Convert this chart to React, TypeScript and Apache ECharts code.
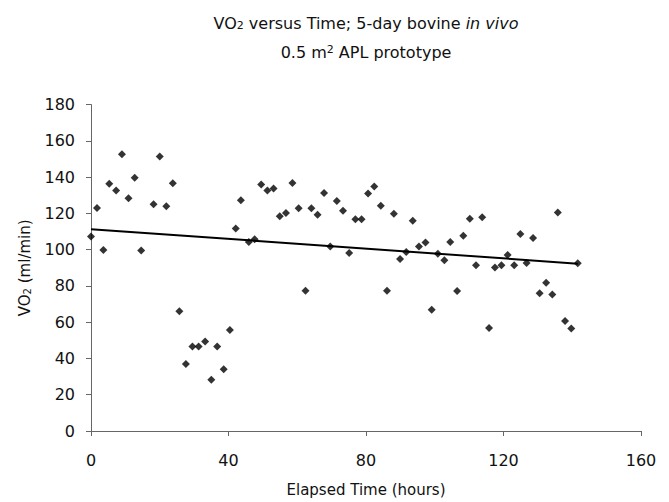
import React, { useEffect, useRef } from "react";
import * as echarts from "echarts";

const hours = [
  0, 1.75, 3.6, 5.3, 7.3, 9.0, 10.9, 12.7, 14.6, 18.2, 20.0, 21.9, 23.8, 25.7, 27.6, 29.5,
  31.3, 33.2, 35.0, 36.7, 38.6, 40.4, 42.1, 43.6, 45.9, 47.6, 49.5, 51.3, 53.1, 54.9, 56.7,
  58.6, 60.4, 62.4, 64.1, 65.9, 67.8, 69.6, 71.5, 73.3, 75.1, 76.9, 78.7, 80.6, 82.4, 84.3,
  86.1, 88.1, 89.9, 91.7, 93.6, 95.4, 97.3, 99.1, 100.9, 102.8, 104.5, 106.5, 108.3, 110.2,
  112.0, 113.8, 115.8, 117.5, 119.4, 121.2, 123.1, 124.9, 126.7, 128.6, 130.5, 132.4, 134.2,
  135.8, 137.9, 139.7, 141.6,
];
const vo2 = [
  107.3, 123, 99.8, 136.3, 132.6, 152.6, 128.4, 139.7, 99.6, 125, 151.4, 124, 136.6, 66, 37,
  46.6, 46.6, 49.3, 28.2, 46.6, 34, 55.7, 111.7, 127.2, 104.2, 105.8, 136, 132.6, 133.7, 118.4,
  120.2, 136.8, 122.8, 77.3, 122.8, 119.3, 131.3, 101.8, 126.8, 121.5, 98.2, 116.8, 116.8, 131,
  134.8, 124.2, 77.3, 119.8, 94.9, 98.7, 116, 101.8, 104, 66.8, 97.8, 94.2, 104.2, 77.2, 107.7,
  117, 91.4, 117.9, 56.8, 90.2, 91.4, 97.1, 91.4, 108.7, 92.7, 106.4, 76, 81.8, 75.3, 120.5,
  60.7, 56.5, 92.5,
];
const trendHours = [0, 141.6];
const trendVo2 = [111.3, 92.3];

const FONT = "DejaVu Sans";

export default function App() {
  const ref = useRef<HTMLDivElement>(null);
  useEffect(() => {
    document.body.style.margin = "0";
    if (!ref.current) return;
    const chart = echarts.init(ref.current, undefined, { renderer: "svg" });
    chart.setOption({
      animation: false,
      backgroundColor: "#ffffff",
      graphic: [
        {
          type: "text",
          x: 366,
          y: 23,
          style: {
            text: "VO{sub|2} versus Time; 5-day bovine {it|in vivo}",
            align: "center",
            verticalAlign: "middle",
            fontFamily: FONT,
            fontSize: 16,
            fill: "#111",
            rich: {
              sub: { fontSize: 11, fontFamily: FONT, lineHeight: 11, verticalAlign: "bottom", fill: "#111" },
              it: { fontSize: 16, fontFamily: FONT, fontStyle: "italic", fill: "#111" },
            },
          },
        },
        {
          type: "text",
          x: 366,
          y: 52,
          style: {
            text: "0.5 m{sup|2} APL prototype",
            align: "center",
            verticalAlign: "middle",
            fontFamily: FONT,
            fontSize: 16,
            fill: "#111",
            rich: {
              sup: { fontSize: 11, fontFamily: FONT, lineHeight: 11, verticalAlign: "top", fill: "#111" },
            },
          },
        },
      ],
      grid: { left: 91, right: 28, top: 104.6, bottom: 68, containLabel: false },
      xAxis: {
        type: "value",
        min: 0,
        max: 160,
        interval: 40,
        name: "Elapsed Time (hours)",
        nameLocation: "middle",
        nameGap: 51,
        nameTextStyle: { fontFamily: FONT, fontSize: 15, color: "#111" },
        axisLine: { show: true, onZero: false, lineStyle: { color: "#666", width: 1 } },
        axisTick: { show: true, length: 5, inside: false, lineStyle: { color: "#666" } },
        axisLabel: { fontFamily: FONT, fontSize: 16, color: "#111", margin: 21 },
        splitLine: { show: false },
      },
      yAxis: {
        type: "value",
        min: 0,
        max: 180,
        interval: 20,
        name: "VO{sub|2} (ml/min)",
        nameLocation: "middle",
        nameGap: 59,
        nameTextStyle: {
          fontFamily: FONT,
          fontSize: 15,
          color: "#111",
          rich: {
            sub: { fontSize: 10, fontFamily: FONT, lineHeight: 10, verticalAlign: "bottom", color: "#111" },
          },
        },
        axisLine: { show: true, lineStyle: { color: "#666", width: 1 } },
        axisTick: { show: true, length: 5, inside: false, lineStyle: { color: "#666" } },
        axisLabel: { fontFamily: FONT, fontSize: 16, color: "#111", margin: 16 },
        splitLine: { show: false },
      },
      series: [
        {
          type: "scatter",
          symbol: "diamond",
          symbolSize: 8,
          itemStyle: { color: "#000" },
          data: hours.map((h, i) => [h, vo2[i]]),
          z: 3,
        },
        {
          type: "line",
          showSymbol: false,
          symbol: "none",
          lineStyle: { color: "#000", width: 2 },
          data: trendHours.map((h, i) => [h, trendVo2[i]]),
          z: 2,
        },
      ],
    });
    return () => chart.dispose();
  }, []);
  return <div ref={ref} style={{ width: 669, height: 502 }} />;
}
